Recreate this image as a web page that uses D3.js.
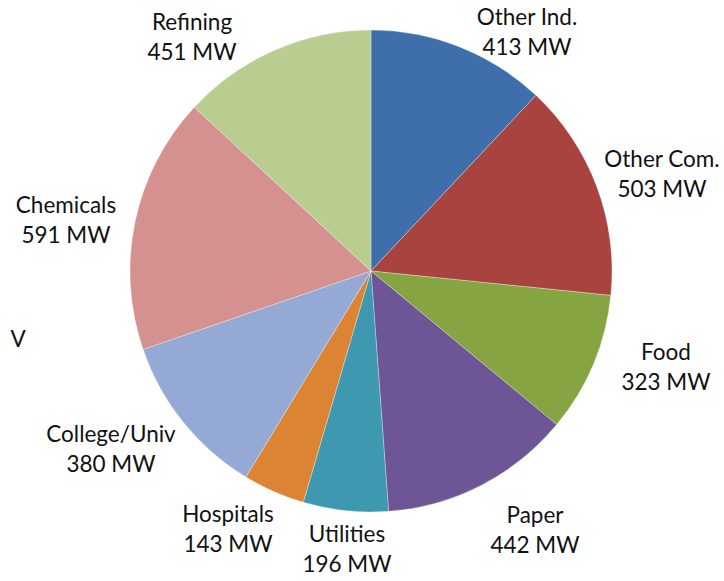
<!DOCTYPE html>
<html>
<head>
<meta charset="utf-8">
<script src="https://cdn.jsdelivr.net/npm/d3@7"></script>
<style>
  html, body { margin: 0; padding: 0; background: #fff; }
  svg { display: block; }
  text { font-family: Lato, "Open Sans", sans-serif; fill: #111; }
</style>
</head>
<body>
<svg id="chart" width="724" height="581"></svg>
<script>
const categories = ["Other Ind.", "Other Com.", "Food", "Paper", "Utilities", "Hospitals", "College/Univ", "Chemicals", "Refining"];
const values = [413, 503, 323, 442, 196, 143, 380, 591, 451];
const colors = ["#3F6FAA", "#A8433F", "#86A542", "#6E5596", "#3D98B0", "#DB8434", "#94A9D4", "#D49190", "#B8CD8F"];
// label anchor positions (centre of first line baseline)
const labelPos = [[527, 25], [662, 167], [666, 360], [535, 523], [347, 542], [228, 522], [111, 442], [66, 213], [192, 30]];

const svg = d3.select("#chart");
const cx = 371, cy = 271, r = 241;

const pie = d3.pie().sort(null).value(d => d)(values);
const arc = d3.arc().innerRadius(0).outerRadius(r);

const g = svg.append("g").attr("transform", `translate(${cx},${cy})`);
g.selectAll("path").data(pie).join("path")
  .attr("d", arc)
  .attr("fill", (d, i) => colors[i])
  .attr("stroke", "#fff")
  .attr("stroke-width", 0.3);

const labels = svg.append("g").selectAll("text").data(categories).join("text")
  .attr("text-anchor", "middle")
  .attr("font-size", 22.5)
  .attr("x", (d, i) => labelPos[i][0])
  .attr("y", (d, i) => labelPos[i][1]);
labels.append("tspan").attr("x", (d, i) => labelPos[i][0]).text(d => d);
labels.append("tspan").attr("x", (d, i) => labelPos[i][0]).attr("dy", 30)
  .text((d, i) => values[i] + " MW");

// clipped fragment of a label at left edge
svg.append("text").attr("x", 18).attr("y", 347).attr("text-anchor", "middle")
  .attr("font-size", 22.5).text("V");
</script>
</body>
</html>
